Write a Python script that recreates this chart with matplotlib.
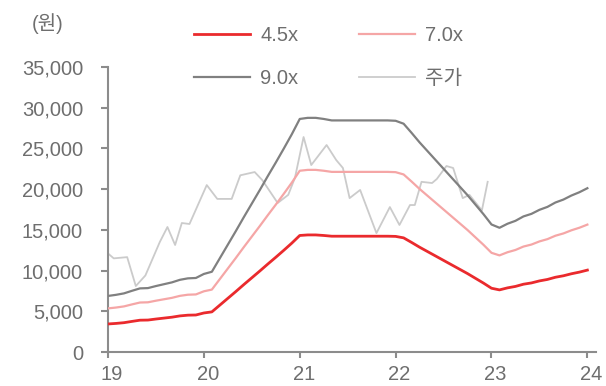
#!/usr/bin/env python3

# PBR band chart: share price against 4.5x / 7.0x / 9.0x BPS bands, 2019-2024

import numpy as np
import matplotlib as mpl
mpl.use('Agg')
font = {'family': ['Liberation Sans', 'Noto Sans CJK KR'],
        'size': 14.5}
mpl.rc('font', **font)
from matplotlib import pyplot as plt
import matplotlib.transforms as mtransforms

# monthly BPS (won), Jan-19 .. Jan-24
bps = [765, 780, 800, 835, 868, 872, 900, 925, 950, 985, 1005, 1010,
       1065, 1095, 1280, 1465, 1650, 1840, 2025, 2210, 2400, 2585, 2775, 2970,
       3180, 3195, 3195, 3180, 3160, 3160, 3160, 3160, 3160, 3160, 3160, 3160,
       3155, 3115, 2990, 2860, 2740, 2620, 2500, 2380, 2260, 2140, 2010, 1880,
       1740, 1695, 1750, 1790, 1850, 1885, 1940, 1980, 2040, 2080, 2135, 2180,
       2235]
bps_t = 19 + np.arange(len(bps)) / 12.0

band_mults = [4.5, 7.0, 9.0]
band_labels = ['4.5x', '7.0x', '9.0x']

# share price (won), decimal year
price_t = [19.00, 19.06, 19.20, 19.29, 19.39, 19.54, 19.62, 19.70, 19.77, 19.85,
           20.03, 20.14, 20.29, 20.38, 20.53, 20.61, 20.77, 20.88, 20.95, 21.04,
           21.12, 21.28, 21.38, 21.45, 21.52, 21.63, 21.80, 21.94, 22.04, 22.15,
           22.20, 22.27, 22.38, 22.43, 22.53, 22.60, 22.65, 22.70, 22.77, 22.81,
           22.90, 22.96]
price = [12100, 11500, 11650, 8100, 9400, 13500, 15350, 13140, 15840, 15720,
         20500, 18800, 18800, 21700, 22100, 21100, 18300, 19300, 21400, 26400,
         22960, 25420, 23580, 22600, 18900, 19900, 14600, 17800, 15600, 18050,
         18050, 20900, 20750, 21250, 22840, 22600, 20750, 18900, 19300, 18700,
         17400, 20900]

year_ticks = [19, 20, 21, 22, 23, 24]
year_labels = ['19', '20', '21', '22', '23', '24']
y_ticks = [0, 5000, 10000, 15000, 20000, 25000, 30000, 35000]

band_colors = ['#ea2a2d', '#f5a6a6', '#808080']
band_widths = [2.0, 1.6, 1.6]
price_color = '#cbcbcb'
text_color = '#6e6e6e'
axis_color = '#8c8c8c'

fig = plt.figure(figsize=(6.06, 3.86), dpi=100)
ax = fig.add_axes([108/606, 1 - 352/386, 488/606, 285/386])

handles = {}
for mult, label, color, lw in zip(band_mults, band_labels, band_colors, band_widths):
    band = np.array(bps) * mult
    line, = ax.plot(bps_t, band, color=color, lw=lw, label=label, zorder=3)
    handles[label] = line
line, = ax.plot(price_t, price, color=price_color, lw=1.3, label='주가', zorder=2)
handles['주가'] = line

ax.set_xlim(19, 24.09)
ax.set_ylim(0, 35000)
ax.set_xticks(year_ticks)
ax.set_xticklabels(year_labels)
ax.set_yticks(y_ticks)
ax.set_yticklabels(['{:,}'.format(v) for v in y_ticks])

for side in ['top', 'right']:
    ax.spines[side].set_visible(False)
for side in ['left', 'bottom']:
    ax.spines[side].set_color(axis_color)
    ax.spines[side].set_linewidth(1.5)
ax.tick_params(axis='y', colors=axis_color, labelcolor=text_color,
               length=5, width=1.5, pad=13)
ax.tick_params(axis='x', colors=axis_color, labelcolor=text_color,
               length=4, width=1.5, pad=5)
# nudge year labels a little to the right
offset = mtransforms.ScaledTranslation(4/100, 0, fig.dpi_scale_trans)
for lab in ax.get_xticklabels():
    lab.set_transform(lab.get_transform() + offset)

fig.text(48/606, 1 - 24/386, '(원)', color=text_color, ha='center', va='center')

# legend ordered column-wise so rows read 4.5x/7.0x then 9.0x/주가
order = ['4.5x', '9.0x', '7.0x', '주가']
fig.legend([handles[k] for k in order], order, loc='upper left',
           bbox_to_anchor=(194/606, 1 - 26/386), ncol=2, frameon=False,
           borderpad=0, borderaxespad=0, handlelength=2.8, handletextpad=0.5,
           columnspacing=3.0, labelspacing=1.2, labelcolor=text_color)

fig.savefig('out.png', dpi=100)
